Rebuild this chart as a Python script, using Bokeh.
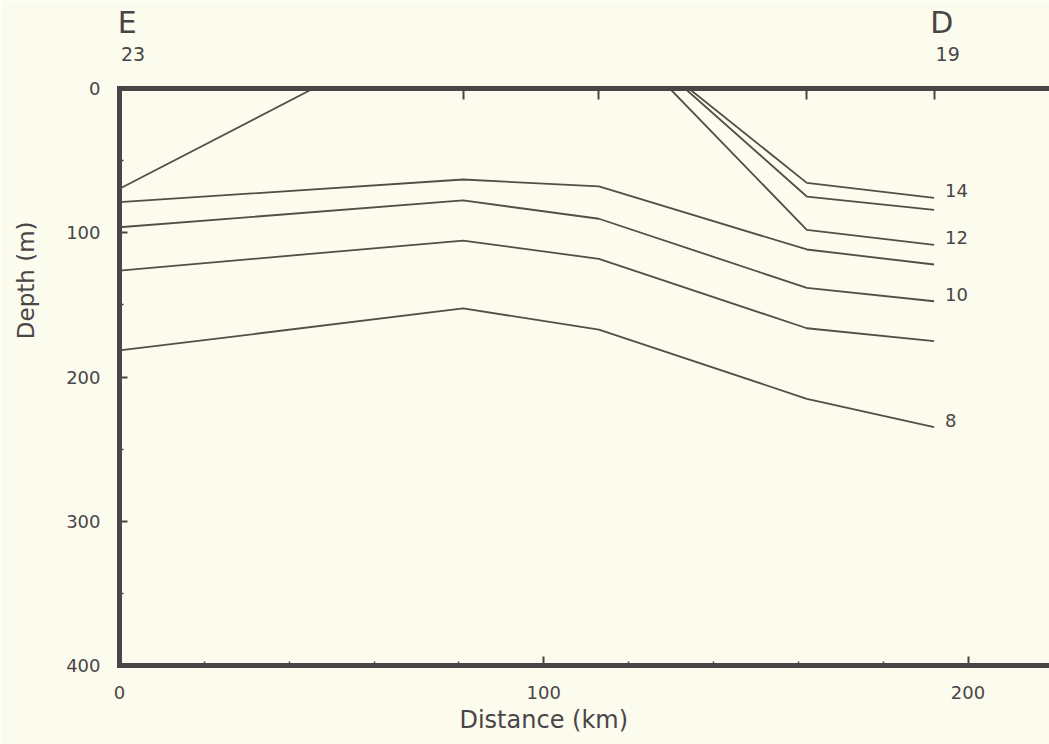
from bokeh.plotting import figure
from bokeh.models import Range1d, LinearAxis, FixedTicker, ColumnDataSource
from bokeh.embed import file_html
from bokeh.resources import INLINE
from bokeh.core.properties import value

# ---- data (distance km, depth m) ----
stations_km = [0, 81, 113, 162, 192]
station_label_km = [0, 192]
station_letters = ["E", "D"]
station_numbers = ["23", "19"]

t8_x = [0, 81, 113, 162, 192]
t8_d = [181.6, 152.5, 167.1, 215.1, 234.8]
t9_x = [0, 81, 113, 162, 192]
t9_d = [126.2, 105.4, 118.1, 166.2, 175.2]
t10_x = [0, 81, 113, 162, 192]
t10_d = [96.2, 77.6, 90.3, 138.2, 147.5]
t11_x = [0, 81, 113, 162, 192]
t11_d = [78.8, 63.1, 67.9, 111.6, 122.0]
t12a_x = [0, 45.7]
t12a_d = [69.5, 0]
t12b_x = [129.7, 162, 192]
t12b_d = [0, 98.0, 108.4]
t13_x = [133.3, 162, 192]
t13_d = [0, 74.9, 84.1]
t14_x = [134.2, 162, 192]
t14_d = [0, 65.4, 75.8]

contour_labels = ["14", "12", "10", "8"]
contour_label_x = [t14_x[-1], t12b_x[-1], t10_x[-1], t8_x[-1]]
contour_label_d = [t14_d[-1], t12b_d[-1], t10_d[-1], t8_d[-1]]

x_major_ticks = [0, 100, 200]
x_minor_ticks = [20, 40, 60, 80, 120, 140, 160, 180, 220]
y_major_ticks = [0, 100, 200, 300, 400]
y_minor_ticks = [50, 150, 250, 350]

x_title = "Distance (km)"
y_title = "Depth (m)"
x_title_at = 100     # km, where the title is centred
y_title_at = 133     # m, where the title is centred

# ---- style ----
BG = "#fbfbee"
INK = "#4a4547"
LINE = "#524e48"
FONT = "DejaVu Sans"

p = figure(width=1049, height=744, output_backend="svg", toolbar_location=None,
           x_range=Range1d(0, 219.2), y_range=Range1d(400, 0),
           x_axis_location=None, y_axis_location=None,
           min_border_left=119, min_border_right=0, min_border_top=88, min_border_bottom=79)
p.background_fill_color = BG
p.border_fill_color = BG
p.outline_line_color = None
p.grid.visible = False


def style_axis(ax, size="18px"):
    ax.axis_line_color = INK
    ax.axis_line_width = 5
    ax.axis_line_cap = "square"
    ax.major_tick_line_color = INK
    ax.major_tick_line_width = 2
    ax.minor_tick_line_color = INK
    ax.minor_tick_line_width = 1.5
    ax.major_tick_out = 0
    ax.minor_tick_out = 0
    ax.major_label_text_font = FONT
    ax.major_label_text_color = INK
    ax.major_label_text_font_size = size


def text_axis(ticks, labels, size, standoff, orientation="horizontal"):
    ax = LinearAxis(ticker=FixedTicker(ticks=ticks, minor_ticks=[]))
    style_axis(ax, size)
    ax.axis_line_color = None
    ax.major_tick_line_color = None
    ax.major_tick_in = 0
    ax.major_label_overrides = {t: s for t, s in zip(ticks, labels)}
    ax.major_label_standoff = standoff
    ax.major_label_orientation = orientation
    return ax


left = LinearAxis(ticker=FixedTicker(ticks=y_major_ticks, minor_ticks=y_minor_ticks))
style_axis(left)
left.major_tick_in = 8
left.minor_tick_in = 4
left.major_label_standoff = 19
p.add_layout(left, "left")
p.add_layout(text_axis([y_title_at], [y_title], "23px", 24, "vertical"), "left")

bottom = LinearAxis(ticker=FixedTicker(ticks=x_major_ticks, minor_ticks=x_minor_ticks))
style_axis(bottom)
bottom.major_tick_in = 9
bottom.minor_tick_in = 4
bottom.major_label_standoff = 20
p.add_layout(bottom, "below")
p.add_layout(text_axis([x_title_at], [x_title], "24px", 4), "below")

# top frame with a tick at every station
top = LinearAxis(ticker=FixedTicker(ticks=stations_km, minor_ticks=[]))
style_axis(top)
top.major_tick_in = 11
top.minor_tick_in = 0
top.major_label_overrides = {t: "" for t in stations_km}
top.major_label_standoff = 0
p.add_layout(top, "above")

# station numbers and names above the frame (left-aligned on the station)
num_pos = [k + 3.2 for k in station_label_km]
let_pos = [k + 1.8 for k in station_label_km]
p.add_layout(text_axis(num_pos, station_numbers, "19px", 28), "above")
p.add_layout(text_axis(let_pos, station_letters, "30px", 4), "above")

# isotherms
series = [(t8_x, t8_d), (t9_x, t9_d), (t10_x, t10_d), (t11_x, t11_d),
          (t12a_x, t12a_d), (t12b_x, t12b_d), (t13_x, t13_d), (t14_x, t14_d)]
for xs, ds in series:
    p.line(xs, ds, line_color=LINE, line_width=1.8)

# contour labels
src = ColumnDataSource(dict(x=contour_label_x, y=contour_label_d, t=contour_labels))
p.text(x="x", y="y", text="t", source=src, x_offset=11, y_offset=-7,
       text_font=value(FONT), text_font_size="18px", text_color=INK,
       text_align="left", text_baseline="middle")

open("out.html", "w").write(file_html(p, INLINE))
